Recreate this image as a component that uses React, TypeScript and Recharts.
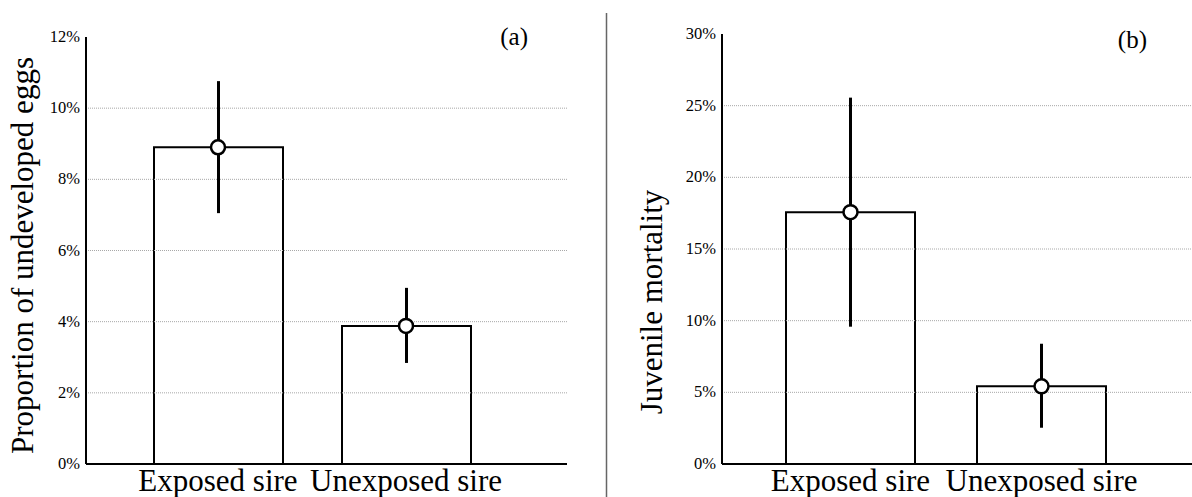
import React from 'react';
import { ComposedChart, Bar, Line, ErrorBar, XAxis, YAxis, ReferenceLine } from 'recharts';

const categories = ['Exposed sire', 'Unexposed sire'];

// panel (a): proportion of undeveloped eggs, %
const eggsMean = [8.9, 3.88];
const eggsLow = [7.05, 2.84];
const eggsHigh = [10.76, 4.95];
const eggsTicks = [0, 2, 4, 6, 8, 10, 12];
const eggsGrid = [2, 4, 6, 8, 10];

// panel (b): juvenile mortality, %
const mortMean = [17.57, 5.42];
const mortLow = [9.58, 2.53];
const mortHigh = [25.56, 8.39];
const mortTicks = [0, 5, 10, 15, 20, 25, 30];
const mortGrid = [5, 10, 15, 20, 25];

const FONT = '"Liberation Serif", "Times New Roman", serif';

const buildRows = (mean: number[], low: number[], high: number[]) =>
    categories.map((name, i) => ({
        name,
        mean: mean[i],
        err: [mean[i] - low[i], high[i] - mean[i]],
    }));

const YTick = (props: any) => {
    const { x, y, payload } = props;
    return (
        <text x={x} y={y} dy={5} textAnchor="end" fontSize={16.5} fontFamily={FONT} fill="#000">
            {`${payload.value}%`}
        </text>
    );
};

const XTick = (props: any) => {
    const { x, y, payload } = props;
    return (
        <text x={x} y={y} dy={21} textAnchor="middle" fontSize={31} fontFamily={FONT} fill="#000">
            {payload.value}
        </text>
    );
};

type PanelProps = {
    rows: any[];
    ticks: number[];
    grid: number[];
    max: number;
    width: number;
    yAxisWidth: number;
    top: number;
    right: number;
    padLeft: number;
    padRight: number;
    title: string;
    titleX: number;
    titleY: number;
};

const Panel = (p: PanelProps) => {
    return (
        <ComposedChart
            width={p.width}
            height={497}
            data={p.rows}
            margin={{ top: p.top, right: p.right, bottom: 0, left: 0 }}
        >
            {p.grid.map((g) => (
                <ReferenceLine key={g} y={g} stroke="#a8a8a8" strokeWidth={1} strokeDasharray="1 1" />
            ))}
            <XAxis
                dataKey="name"
                height={33}
                padding={{ left: p.padLeft, right: p.padRight }}
                axisLine={{ stroke: '#000', strokeWidth: 2 }}
                tickLine={false}
                tickSize={4}
                tickMargin={2}
                tick={<XTick />}
                interval={0}
            />
            <YAxis
                width={p.yAxisWidth}
                domain={[0, p.max]}
                ticks={p.ticks}
                axisLine={{ stroke: '#000', strokeWidth: 2 }}
                tickLine={false}
                tickSize={4}
                tickMargin={2}
                tick={<YTick />}
                label={{
                    content: (lp: any) => {
                        const vb = lp.viewBox;
                        const cy = vb.y + vb.height / 2 + p.titleY;
                        return (
                            <text
                                x={p.titleX}
                                y={cy}
                                transform={`rotate(-90, ${p.titleX}, ${cy})`}
                                textAnchor="middle"
                                fontSize={31}
                                fontFamily={FONT}
                                fill="#000"
                            >
                                {p.title}
                            </text>
                        );
                    },
                }}
            />
            <Bar
                dataKey="mean"
                barSize={129}
                fill="#fff"
                stroke="#000"
                strokeWidth={2}
                isAnimationActive={false}
            >
                <ErrorBar dataKey="err" width={0} stroke="#000" strokeWidth={3} />
            </Bar>
            <Line
                dataKey="mean"
                stroke="none"
                dot={{ r: 7, fill: '#fff', stroke: '#000', strokeWidth: 2.5 }}
                activeDot={false}
                isAnimationActive={false}
            />
        </ComposedChart>
    );
};

const App = () => {
    return (
        <div style={{ position: 'absolute', left: 0, top: 0, width: 1192, height: 497, background: '#fff' }}>
            <div style={{ position: 'absolute', left: 0, top: 0 }}>
                <Panel
                    rows={buildRows(eggsMean, eggsLow, eggsHigh)}
                    ticks={eggsTicks}
                    grid={eggsGrid}
                    max={12}
                    width={600}
                    yAxisWidth={86}
                    top={37}
                    right={33}
                    padLeft={38}
                    padRight={67}
                    title="Proportion of undeveloped eggs"
                    titleX={33}
                    titleY={5}
                />
            </div>
            <div style={{ position: 'absolute', left: 607, top: 0 }}>
                <Panel
                    rows={buildRows(mortMean, mortLow, mortHigh)}
                    ticks={mortTicks}
                    grid={mortGrid}
                    max={30}
                    width={585}
                    yAxisWidth={115}
                    top={34}
                    right={0}
                    padLeft={33}
                    padRight={55}
                    title="Juvenile mortality"
                    titleX={55}
                    titleY={53}
                />
            </div>
            <svg
                width={1192}
                height={497}
                style={{ position: 'absolute', left: 0, top: 0, pointerEvents: 'none' }}
            >
                <line x1={606.5} y1={13} x2={606.5} y2={497} stroke="#666" strokeWidth={1.5} />
                <text x={528} y={45} textAnchor="end" fontSize={25} fontFamily={FONT} fill="#000">
                    (a)
                </text>
                <text x={1147} y={48} textAnchor="end" fontSize={25} fontFamily={FONT} fill="#000">
                    (b)
                </text>
            </svg>
        </div>
    );
};

export default App;
